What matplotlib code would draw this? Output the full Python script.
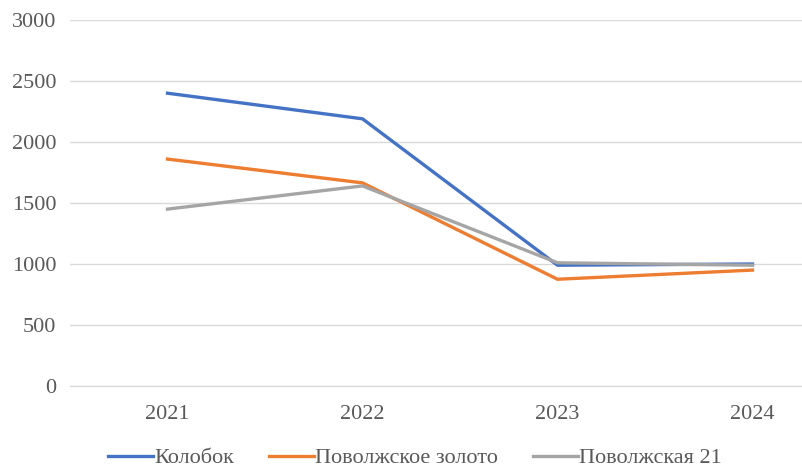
import matplotlib.pyplot as plt

years = ['2021', '2022', '2023', '2024']
kolobok = [2400, 2190, 990, 1000]
zoloto = [1860, 1665, 875, 950]
povolzh21 = [1450, 1640, 1010, 990]

names = ['Колобок', 'Поволжское золото', 'Поволжская 21']
colors = ['#4472C4', '#ED7D31', '#A5A5A5']

plt.rcParams['font.family'] = ['Liberation Serif', 'DejaVu Serif']

fig = plt.figure(figsize=(8.02, 4.68), dpi=100)
ax = fig.add_axes([70 / 802, 1 - 386 / 468, 780 / 802, 366 / 468])

x = range(len(years))
for vals, name, col in zip([kolobok, zoloto, povolzh21], names, colors):
    ax.plot(x, vals, color=col, lw=2.4, label=name, solid_joinstyle='round')

ax.set_xlim(-0.5, 3.5)
ax.set_ylim(0, 3000)
ax.set_yticks(range(0, 3001, 500))
ax.set_xticks(list(x))
ax.set_xticklabels(years)
ax.grid(axis='y', color='#D9D9D9', lw=1)
ax.set_axisbelow(True)
for s in ['top', 'right', 'left']:
    ax.spines[s].set_visible(False)
ax.spines['bottom'].set_color('#D9D9D9')
ax.tick_params(length=0, labelsize=16, colors='#595959', pad=10)
ax.tick_params(axis='x', pad=14)

fig.legend(loc='center', bbox_to_anchor=(415 / 802, 1 - 458 / 468), ncol=3, frameon=False,
           fontsize=16, handlelength=2.0, handletextpad=0.05, columnspacing=1.6,
           labelcolor='#595959')

fig.savefig('out.png', dpi=100)
